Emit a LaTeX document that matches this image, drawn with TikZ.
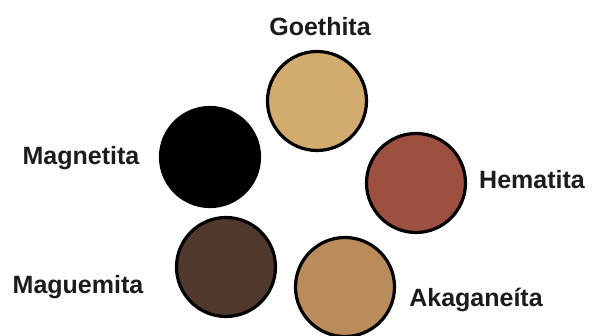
\documentclass[tikz,border=0pt]{standalone}
\usepackage{fontspec}
\setmainfont{Liberation Sans}
\definecolor{goeth}{RGB}{210,172,110}
\definecolor{hemat}{RGB}{158,80,64}
\definecolor{mague}{RGB}{80,56,44}
\definecolor{akaga}{RGB}{186,140,92}
\definecolor{txt}{RGB}{28,28,28}
\begin{document}
\begin{tikzpicture}[x=1pt,y=-1pt,
  mineral/.style={circle,draw=black,line width=3.2pt,minimum size=99pt,inner sep=0pt},
  lbl/.style={font=\fontsize{25}{29}\selectfont\bfseries,text=txt,inner sep=0pt}]
\useasboundingbox (0,0) rectangle (592,336);
\fill[white] (0,0) rectangle (592,336);
\node[mineral,fill=goeth] (goe) at (317,101) {};
\node[mineral,fill=black] (mag) at (210,157) {};
\node[mineral,fill=hemat] (hem) at (416,183) {};
\node[mineral,fill=mague] (mgm) at (226,267) {};
\node[mineral,fill=akaga] (aka) at (345,287) {};
\node[lbl] (tgoe) at (320,27) {Goethita};
\node[lbl] (tmag) at (81,158) {Magnetita};
\node[lbl] (them) at (532,180) {Hematita};
\node[lbl] (tmgm) at (78,287) {Maguemita};
\node[lbl] (taka) at (476,300) {Akaganeíta};
\end{tikzpicture}
\end{document}
